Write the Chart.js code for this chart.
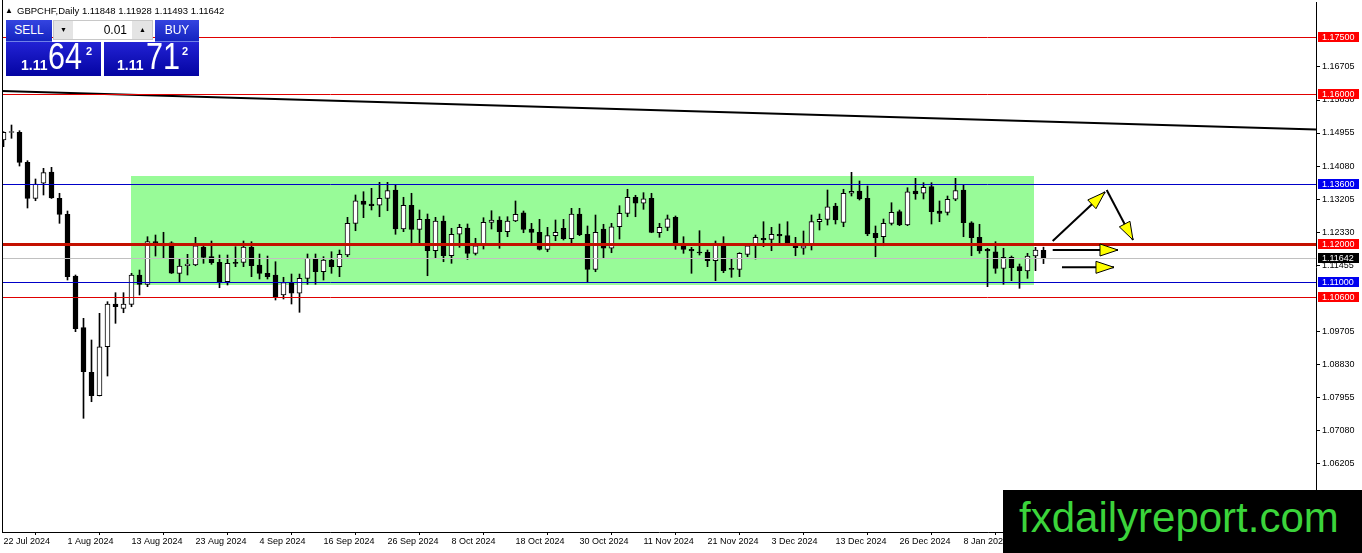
<!DOCTYPE html>
<html>
<head>
<meta charset="utf-8">
<script src="https://cdn.jsdelivr.net/npm/chart.js@4.4.1/dist/chart.umd.min.js"></script>
<style>
  html,body{margin:0;padding:0;background:#fff;overflow:hidden;}
  #wrap{position:relative;width:1362px;height:553px;}
  #c{position:absolute;left:0;top:0;}
  .abs{position:absolute;white-space:nowrap;font-family:"Liberation Sans",Arial,sans-serif;}
  #hdr{left:5px;top:5px;font-size:9.5px;line-height:11px;color:#000;}
  #hdr .tri{font-size:8px;display:inline-block;width:12px;vertical-align:1px;}
  .btn{background:linear-gradient(#3444e0,#1424c0);color:#fff;font-size:12px;text-align:center;line-height:20px;height:22px;box-sizing:border-box;border-bottom:1px solid #7080e8;}
  .spin{background:#e4e4e4;border:1px solid #c8c8c8;box-sizing:border-box;}
  .spin .val{position:absolute;left:19px;top:0;width:59px;height:18px;background:#fff;font-size:12px;line-height:18px;text-align:right;box-sizing:border-box;padding-right:5px;color:#000;}
  .spin .arr{position:absolute;top:0;width:19px;height:18px;font-size:7px;line-height:18px;text-align:center;color:#000;}
  .price{background:linear-gradient(#2222d4,#0404a2);color:#fff;height:34px;}
  .price span{position:absolute;}
  .sm{font-size:14px;font-weight:bold;line-height:14px;}
  .big{font-size:36px;line-height:36px;transform:scaleX(0.85);transform-origin:0 0;}
  .sup{font-size:11px;font-weight:bold;line-height:11px;}
  #wm{left:1003px;top:490px;width:359px;height:63px;background:#000;}
  #wm span{position:absolute;left:16px;top:7px;font-size:42px;line-height:42px;color:#3bd43b;}
</style>
</head>
<body>
<div id="wrap">
  <canvas id="c" width="1362" height="553"></canvas>
  <div id="hdr" class="abs"><span class="tri">▲</span>GBPCHF,Daily 1.11848 1.11928 1.11493 1.11642</div>
  <div class="abs btn" style="left:6px;top:20px;width:46px;">SELL</div>
  <div class="abs spin" style="left:53px;top:20px;width:100px;height:20px;">
    <div class="arr" style="left:0;">▼</div>
    <div class="val">0.01</div>
    <div class="arr" style="left:79px;">▲</div>
  </div>
  <div class="abs btn" style="left:155px;top:20px;width:44px;">BUY</div>
  <div class="abs price" style="left:6px;top:42px;width:95px;">
    <span class="sm" style="left:15px;top:16px;">1.11</span>
    <span class="big" style="left:42px;top:-3px;">64</span>
    <span class="sup" style="left:80px;top:4px;">2</span>
  </div>
  <div class="abs price" style="left:104px;top:42px;width:95px;">
    <span class="sm" style="left:13px;top:16px;">1.11</span>
    <span class="big" style="left:42px;top:-3px;">71</span>
    <span class="sup" style="left:78px;top:4px;">2</span>
  </div>
  <div id="wm" class="abs"><span>fxdailyreport.com</span></div>
</div>
<script>
// ---- data ----
const xTickLabels = ['22 Jul 2024','1 Aug 2024','13 Aug 2024','23 Aug 2024','4 Sep 2024','16 Sep 2024','26 Sep 2024','8 Oct 2024','18 Oct 2024','30 Oct 2024','11 Nov 2024','21 Nov 2024','3 Dec 2024','13 Dec 2024','26 Dec 2024','8 Jan 2025'];
const xTickIndex = [0,8,16,24,32,40,48,56,64,72,80,88,96,104,112,120];

const opens = [1.14770,1.14968,1.14974,1.14178,1.13224,1.13622,1.13921,1.13224,1.12800,1.11164,
1.09794,1.08611,1.07991,1.09290,1.10422,1.10308,1.10414,1.11191,1.10944,1.12074,
1.11960,1.12047,1.11236,1.11437,1.11456,1.11933,1.11676,1.11527,1.11013,1.11527,
1.11527,1.11933,1.11456,1.11236,1.11191,1.10661,1.10987,1.10706,1.11103,1.11634,
1.11278,1.11588,1.11411,1.11721,1.12561,1.13153,1.13073,1.13039,1.13224,1.13444,
1.12410,1.13039,1.12402,1.12667,1.11835,1.12622,1.11702,1.12270,1.12437,1.11766,
1.11967,1.12588,1.12649,1.12339,1.12622,1.12842,1.12410,1.12323,1.11872,1.12233,
1.12429,1.12153,1.12808,1.12270,1.11342,1.12410,1.11899,1.12471,1.12826,1.13251,
1.13092,1.13224,1.12312,1.12455,1.12720,1.12031,1.11872,1.11782,1.11793,1.11570,
1.12005,1.11350,1.11342,1.11739,1.11967,1.12164,1.12137,1.12270,1.12233,1.12031,
1.11899,1.11967,1.12604,1.12667,1.13020,1.12588,1.13357,1.13418,1.13224,1.12296,
1.12206,1.12561,1.12869,1.12516,1.13418,1.13357,1.13532,1.12887,1.12853,1.13198,
1.13444,1.12577,1.12190,1.11872,1.11808,1.11368,1.11660,1.11411,1.11297,1.11694,
1.11848];
const highs = [1.14990,1.15167,1.15016,1.14221,1.13736,1.14019,1.14046,1.13357,1.12887,1.11191,
1.10043,1.09468,1.10175,1.10483,1.10722,1.10722,1.11236,1.11323,1.12206,1.12251,
1.12323,1.12074,1.11615,1.11739,1.12190,1.11967,1.12092,1.11721,1.11721,1.11941,
1.12092,1.12074,1.11748,1.11694,1.11543,1.11130,1.11217,1.11217,1.11748,1.11748,
1.11676,1.11808,1.11854,1.12720,1.13312,1.13399,1.13489,1.13648,1.13648,1.13595,
1.13251,1.13357,1.12914,1.12808,1.12720,1.12755,1.12429,1.12535,1.12543,1.12164,
1.12710,1.12895,1.12736,1.12736,1.13153,1.12887,1.12561,1.12667,1.12455,1.12649,
1.12667,1.12959,1.12959,1.12490,1.12781,1.12535,1.12561,1.13028,1.13463,1.13304,
1.13373,1.13357,1.12561,1.12781,1.12755,1.12206,1.11925,1.12365,1.11854,1.12092,
1.12206,1.11615,1.11782,1.12013,1.12251,1.12604,1.12455,1.12543,1.12604,1.12190,
1.12357,1.12781,1.12808,1.13444,1.13092,1.13463,1.13913,1.13683,1.13550,1.12490,
1.12675,1.13107,1.12914,1.13505,1.13754,1.13638,1.13638,1.13153,1.13285,1.13754,
1.13595,1.12604,1.12535,1.11899,1.12074,1.11899,1.11694,1.11482,1.11766,1.11925,
1.11928];
const lows = [1.14592,1.14815,1.14080,1.12967,1.13160,1.13312,1.13220,1.12561,1.11058,1.09688,
1.07392,1.07832,1.07985,1.08513,1.09910,1.10191,1.10350,1.10661,1.10881,1.11694,
1.11649,1.11230,1.11013,1.11191,1.11437,1.11501,1.11474,1.10854,1.10926,1.11411,
1.11411,1.11146,1.11085,1.11085,1.10528,1.10555,1.10422,1.10202,1.10944,1.10944,
1.11058,1.11236,1.11146,1.11676,1.12365,1.12710,1.12914,1.12736,1.12895,1.12270,
1.12339,1.11967,1.12031,1.11172,1.11634,1.11543,1.11501,1.11925,1.11607,1.11721,
1.11880,1.12410,1.11899,1.12206,1.12604,1.12312,1.12031,1.11854,1.11808,1.12100,
1.12119,1.12047,1.12233,1.10987,1.11278,1.11634,1.11782,1.12145,1.12736,1.12736,
1.12932,1.12312,1.12190,1.12365,1.11872,1.11766,1.11236,1.11721,1.11411,1.11040,
1.11252,1.11130,1.11146,1.11676,1.11615,1.11941,1.11835,1.12013,1.11986,1.11702,
1.11739,1.11854,1.12384,1.12516,1.12543,1.12471,1.13285,1.13179,1.12233,1.11676,
1.11967,1.12516,1.12498,1.12498,1.13198,1.13206,1.12543,1.12604,1.12781,1.13160,
1.12206,1.11702,1.11766,1.10881,1.11236,1.10944,1.11040,1.10838,1.11103,1.11305,
1.11493];
const closes = [1.14974,1.14982,1.14178,1.13224,1.13603,1.13903,1.13232,1.12800,1.11146,1.09767,
1.08627,1.07991,1.09290,1.10422,1.10350,1.10422,1.11191,1.10944,1.12074,1.12031,
1.12031,1.11240,1.11429,1.11482,1.11967,1.11660,1.11517,1.11013,1.11501,1.11501,
1.11933,1.11437,1.11236,1.11146,1.10616,1.10987,1.10706,1.11103,1.11634,1.11278,
1.11588,1.11411,1.11739,1.12561,1.13160,1.13065,1.13028,1.13224,1.13426,1.12410,
1.13039,1.12402,1.12667,1.11835,1.12622,1.11702,1.12270,1.12455,1.11766,1.11967,
1.12588,1.12649,1.12339,1.12622,1.12800,1.12402,1.12323,1.11872,1.12233,1.12323,
1.12153,1.12808,1.12259,1.11342,1.12323,1.11899,1.12471,1.12826,1.13251,1.13092,
1.13213,1.12318,1.12455,1.12683,1.12005,1.11872,1.11827,1.11774,1.11570,1.12005,
1.11305,1.11342,1.11766,1.11967,1.12190,1.12119,1.12270,1.12225,1.12013,1.11915,
1.11967,1.12604,1.12667,1.13001,1.12649,1.13357,1.13410,1.13206,1.12278,1.12180,
1.12561,1.12853,1.12516,1.13399,1.13338,1.13516,1.12869,1.12826,1.13198,1.13426,
1.12577,1.12180,1.11827,1.11827,1.11368,1.11660,1.11384,1.11305,1.11694,1.11854,
1.11642];

const yTicks = [1.05330,1.06205,1.07080,1.07955,1.08830,1.09705,1.11455,1.12330,1.13205,1.14080,1.14955,1.15830,1.16705];
const levels = [1.17500,1.16000,1.13600,1.12000,1.11642,1.11000,1.10600];
const levelKinds = ['res','res','band','key','bid','band','res'];

const zone = {from:15.875, to:128.8, top:1.13815, bottom:1.10926};
const trendPoints = [{x:-0.19,y:1.16069},{x:164.06,y:1.15048}];
const arrows = [
  {x0:131.15,y0:1.12092,x1:137.69,y1:1.13391},
  {x0:137.90,y0:1.13444,x1:141.19,y1:1.12119},
  {x0:131.15,y0:1.11854,x1:139.31,y1:1.11854},
  {x0:132.31,y0:1.11395,x1:138.81,y1:1.11395}
];
const yRange = {min:1.04378, max:1.18428};
const xRange = {min:-0.1875, max:164.0625};

// ---- styles ----
const lineStyle = {
  res:{color:'#e00000',width:1},
  band:{color:'#0000c8',width:1},
  key:{color:'#c41000',width:3},
  bid:{color:'#c0c0c0',width:1}
};
const boxColor = {res:'#ff0000',band:'#0000f0',key:'#ff0000',bid:'#000000'};

const wickData = lows.map((l,i)=>({x:i,y:[l,highs[i]]}));
const bodyData = opens.map((o,i)=>({x:i,y:[o,closes[i]]}));
const bodyColors = opens.map((o,i)=> closes[i] > o ? '#ffffff' : '#000000');

Chart.defaults.font.family = '"Liberation Sans", Arial, sans-serif';
Chart.defaults.font.size = 9;
Chart.defaults.color = '#000';

const overlay = {
  id:'overlay',
  beforeDatasetsDraw(chart){
    const {ctx, scales:{x,y}} = chart;
    ctx.save();
    ctx.fillStyle = '#98fb98';
    const x0 = Math.round(x.getPixelForValue(zone.from)), x1 = Math.round(x.getPixelForValue(zone.to));
    const y0 = Math.round(y.getPixelForValue(zone.top)), y1 = Math.round(y.getPixelForValue(zone.bottom));
    ctx.fillRect(x0, y0, x1-x0, y1-y0);
    ctx.restore();
  },
  afterDatasetsDraw(chart){
    const {ctx, chartArea:a, scales:{x,y}} = chart;
    ctx.save();
    ctx.beginPath(); ctx.rect(a.left,a.top,a.right-a.left,a.bottom-a.top); ctx.clip();
    levels.forEach((v,i)=>{
      const st = lineStyle[levelKinds[i]];
      let py = y.getPixelForValue(v);
      py = st.width % 2 ? Math.round(py)+0.5 : Math.round(py);
      ctx.strokeStyle = st.color; ctx.lineWidth = st.width;
      ctx.beginPath(); ctx.moveTo(a.left,py); ctx.lineTo(a.right,py); ctx.stroke();
    });
    arrows.forEach(ar=>{
      const sx = x.getPixelForValue(ar.x0), sy = y.getPixelForValue(ar.y0);
      const ex = x.getPixelForValue(ar.x1), ey = y.getPixelForValue(ar.y1);
      ctx.strokeStyle = '#000'; ctx.lineWidth = 2;
      ctx.beginPath(); ctx.moveTo(sx,sy); ctx.lineTo(ex,ey); ctx.stroke();
      const ang = Math.atan2(ey-sy, ex-sx), L = 18, W = 6;
      const bx = ex - L*Math.cos(ang), by = ey - L*Math.sin(ang);
      ctx.beginPath();
      ctx.moveTo(ex,ey);
      ctx.lineTo(bx + W*Math.sin(ang), by - W*Math.cos(ang));
      ctx.lineTo(bx - W*Math.sin(ang), by + W*Math.cos(ang));
      ctx.closePath();
      ctx.fillStyle = '#ffff00'; ctx.fill();
      ctx.lineWidth = 1; ctx.strokeStyle = '#000'; ctx.stroke();
    });
    ctx.restore();
  },
  afterDraw(chart){
    const {ctx, chartArea:a, scales:{y}} = chart;
    ctx.save();
    ctx.strokeStyle = '#000'; ctx.lineWidth = 1;
    ctx.beginPath(); ctx.moveTo(a.left+0.5, 0); ctx.lineTo(a.left+0.5, a.bottom); ctx.stroke();
    ctx.font = '9px "Liberation Sans", Arial, sans-serif';
    ctx.textBaseline = 'middle'; ctx.textAlign = 'left';
    levels.forEach((v,i)=>{
      const py = Math.round(y.getPixelForValue(v));
      ctx.fillStyle = boxColor[levelKinds[i]];
      ctx.fillRect(a.right+2, py-5, 41, 10);
      ctx.fillStyle = '#fff';
      ctx.fillText(v.toFixed(5), a.right+6, py+0.5);
    });
    ctx.restore();
  }
};

new Chart(document.getElementById('c'), {
  type:'bar',
  data:{datasets:[
    {type:'line', data:trendPoints, borderColor:'#000', borderWidth:2, pointRadius:0, order:0, parsing:true},
    {data:bodyData, barThickness:5, backgroundColor:bodyColors, borderColor:'#000', borderWidth:1, borderSkipped:false, minBarLength:1, grouped:false, order:1},
    {data:wickData, barThickness:1, backgroundColor:'#000', borderWidth:0, grouped:false, order:2}
  ]},
  options:{
    responsive:false, animation:false, devicePixelRatio:1,
    layout:{padding:{left:2,top:2,right:0,bottom:0}, autoPadding:false},
    plugins:{legend:{display:false}, tooltip:{enabled:false}},
    scales:{
      x:{type:'linear', min:xRange.min, max:xRange.max, offset:false,
        grid:{display:true, drawOnChartArea:false, tickLength:3, color:'#000'},
        border:{display:true, color:'#000'},
        ticks:{autoSkip:false, maxRotation:0, align:'start', padding:1, color:'#000',
          callback:(v,i)=> xTickLabels[i]},
        afterBuildTicks:(s)=>{ s.ticks = xTickIndex.map(v=>({value:v})); },
        afterFit:(s)=>{ s.height = 21; s.paddingLeft = 0; s.paddingRight = 0; }
      },
      y:{type:'linear', position:'right', min:yRange.min, max:yRange.max,
        grid:{display:true, drawOnChartArea:false, tickLength:4, color:'#000'},
        border:{display:true, color:'#000'},
        ticks:{autoSkip:false, padding:2, color:'#000', callback:(v)=> Number(v).toFixed(5)},
        afterBuildTicks:(s)=>{ s.ticks = yTicks.map(v=>({value:v})); },
        afterFit:(s)=>{ s.width = 46; s.paddingTop = 0; s.paddingBottom = 0; }
      }
    }
  },
  plugins:[overlay]
});
</script>
</body>
</html>
